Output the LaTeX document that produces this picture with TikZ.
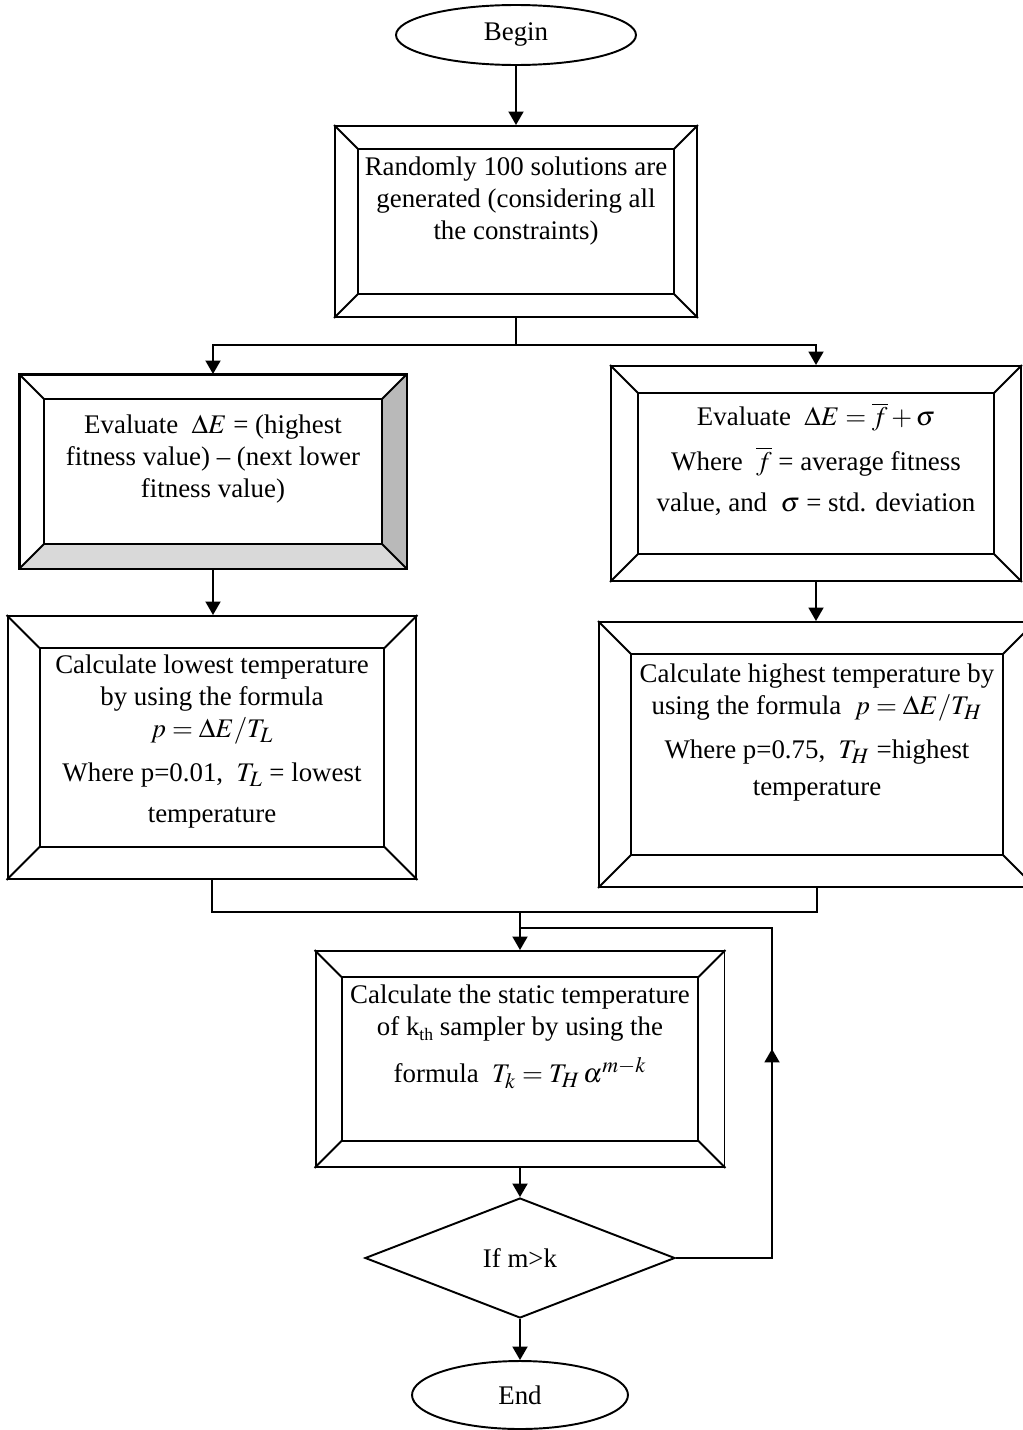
\documentclass[tikz,border=0pt]{standalone}
\usepackage{mathptmx}
\usepackage{fontspec}
\setmainfont{Liberation Serif}
\DeclareMathSizes{15.3}{15.3}{12.5}{10}
\usetikzlibrary{
	arrows.meta,
	calc,
	positioning,
	shapes.geometric,
	decorations.markings,
}
\tikzset{
	default line/.style={line width=1.1pt},
	flow/.style={default line, -{Triangle[length=0.27cm,width=0.3cm]}},
	bevel box/.style={
		draw,
		default line,
		rectangle,
		anchor=north,
		inner sep=0pt,
		align=flush center,
		font=\fontsize{15.3}{18}\selectfont,
	},
	terminal/.style={draw, default line, ellipse, inner sep=0pt, font=\fontsize{15.3}{18}\selectfont},
	decision/.style={draw, default line, diamond, inner sep=0pt, font=\fontsize{15.3}{18}\selectfont},
}
% inner frame and corner lines of a bevelled box
\newcommand{\bevelframe}[2]{%
	\draw[default line] ($(#1.north west)+(#2,#2)$) rectangle ($(#1.south east)+(-#2,-#2)$);
	\foreach \c/\sx/\sy in {north west/1/1,north east/-1/1,south west/1/-1,south east/-1/-1}{
		\draw[default line] (#1.\c) -- ++(\sx*#2,\sy*#2);
	}
}

\begin{document}
\begin{tikzpicture}[x=0.02cm,y=-0.02cm]
\useasboundingbox (0,0) rectangle (1023,1430);

\node[terminal, minimum width=4.8cm, minimum height=1.2cm] (begin) at (516,35) {Begin};

\node[bevel box, text width=7.24cm, text height=1.0cm, text depth=2.82cm] (gen) at (516,125)
	{Randomly 100 solutions are\\ generated (considering all\\ the constraints)};

\node[bevel box, text width=7.72cm, text height=1.18cm, text depth=2.68cm] (evalL) at (213,374)
	{Evaluate \ $\Delta E$ = (highest\\ fitness value) -- (next lower\\ fitness value)};

\node[bevel box, text width=8.2cm, text height=1.2cm, text depth=3.1cm] (evalR) at (816,365)
	{Evaluate \ $\Delta E=\overline{f}+\sigma$\\[0.25cm]
	 Where \ $\overline{f}$ = average fitness\\[0.2cm]
	 value, and \ $\sigma$ = std. deviation};

\node[bevel box, text width=8.18cm, text height=1.16cm, text depth=4.1cm] (calcL) at (212,615)
	{Calculate lowest temperature\\ by using the formula\\ $p=\Delta E/T_L$\\[0.25cm]
	 Where p=0.01, \ $T_L$ = lowest\\[0.2cm] temperature};

\node[bevel box, text width=8.72cm, text height=1.22cm, text depth=4.08cm] (calcR) at (817,621)
	{Calculate highest temperature by\\ using the formula \ $p=\Delta E/T_H$\\[0.25cm]
	 Where p=0.75, \ $T_H$ =highest\\[0.1cm] temperature};

\node[bevel box, text width=8.18cm, text height=1.06cm, text depth=3.26cm] (static) at (520,950)
	{Calculate the static temperature\\
	 of k\raisebox{-0.4ex}{\fontsize{10}{10}\selectfont th} sampler by using the\\[0.3cm]
	 formula \ $T_k=T_H\,\alpha^{m-k}$};

\node[decision, minimum width=6.2cm, minimum height=2.4cm] (check) at (520,1258) {If m>k};

\node[terminal, minimum width=4.32cm, minimum height=1.36cm] (end) at (520,1395) {End};

% shaded sides of the left box
\fill[gray!55] (evalL.north east) -- ($(evalL.north east)+(-25,25)$)
	-- ($(evalL.south east)+(-25,-25)$) -- (evalL.south east) -- cycle;
\fill[gray!30] (evalL.south west) -- ($(evalL.south west)+(25,-25)$)
	-- ($(evalL.south east)+(-25,-25)$) -- (evalL.south east) -- cycle;
\draw[default line] (evalL.north west) rectangle (evalL.south east);

\bevelframe{gen}{24}
\bevelframe{evalL}{25}
\bevelframe{evalR}{28}
\bevelframe{calcL}{33}
\bevelframe{calcR}{33}
\bevelframe{static}{27}

\coordinate (split) at (516,345);
\coordinate (merge) at (520,912);
\coordinate (loopcorner) at (772,928);
\coordinate (join) at (520,928);

\draw[flow] (begin) -- (gen);
\draw[default line] (gen.south) -- (split);
\draw[flow] (split) -| (evalL.north);
\draw[flow] (split) -| (evalR.north);
\draw[flow] (evalL.south) -- (evalL.south |- calcL.north);
\draw[flow] (evalR.south) -- (evalR.south |- calcR.north);
\draw[default line] (calcL.south) |- (merge);
\draw[default line] (calcR.south) |- (merge);
\draw[flow] (merge) -- (merge |- static.north);
\draw[flow] (static.south) -- (check.north);
\draw[flow] (check.south) -- (end.north);
\draw[default line, postaction={decorate},
	decoration={markings, mark=at position 0.45 with {\arrow{Triangle[length=0.27cm,width=0.3cm]}}}]
	(check.east) -| (loopcorner) -- (join);

\end{tikzpicture}
\end{document}
